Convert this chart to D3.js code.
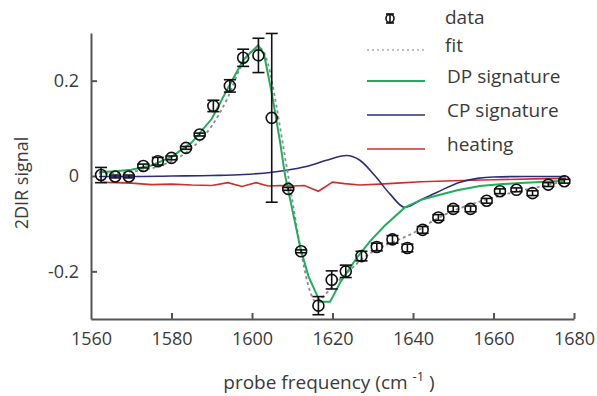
<!DOCTYPE html>
<html>
<head>
<meta charset="utf-8">
<style>
  body { margin: 0; background: #fff; }
  svg text { font-family: 'Open Sans', sans-serif; fill: #3a3a3a; }
</style>
</head>
<body>
<svg id="svg"></svg>
<script src="https://d3js.org/d3.v7.min.js"></script>
<script>

// measured points (probe frequency, signal, error)
const dataFreq = [1562.5, 1566, 1569.4, 1573, 1576.6, 1580, 1583.6, 1587, 1590.4, 1594.5, 1597.8, 1601.6,
  1604.9, 1609, 1612.2, 1616.5, 1619.8, 1623.3, 1627.2, 1631, 1634.9, 1638.6, 1642.4, 1646.3, 1650,
  1654.3, 1658.3, 1661.6, 1665.7, 1669.7, 1673.6, 1677.6];
const dataSignal = [0.002, -0.001, -0.001, 0.021, 0.031, 0.038, 0.059, 0.087, 0.147, 0.189, 0.248, 0.253,
  0.122, -0.027, -0.158, -0.272, -0.218, -0.2, -0.168, -0.149, -0.133, -0.151, -0.113, -0.087, -0.069,
  -0.069, -0.052, -0.032, -0.029, -0.036, -0.018, -0.011];
const dataErr = [0.016, 0.003, 0.003, 0.004, 0.008, 0.004, 0.003, 0.003, 0.012, 0.013, 0.018, 0.036,
  0.177, 0.003, 0.003, 0.019, 0.019, 0.013, 0.01, 0.008, 0.008, 0.008, 0.007, 0.006, 0.006,
  0.006, 0.005, 0.005, 0.004, 0.005, 0.004, 0.004];

// fit curve
const fitFreq = [1562, 1566, 1570, 1574, 1578, 1582, 1586, 1590, 1594, 1597, 1600, 1602, 1604, 1606, 1608,
  1610, 1612, 1614, 1616, 1618, 1620, 1624, 1628, 1632, 1636, 1640, 1645, 1650, 1655, 1660, 1665, 1670, 1675, 1678];
const fitSignal = [0.005, 0.006, 0.009, 0.014, 0.024, 0.04, 0.066, 0.105, 0.165, 0.225, 0.262, 0.268, 0.235, 0.15, 0.05,
  -0.05, -0.15, -0.23, -0.265, -0.25, -0.232, -0.2, -0.17, -0.15, -0.135, -0.12, -0.094, -0.073, -0.058, -0.045, -0.034, -0.025, -0.016, -0.011];

// DP signature
const dpFreq = [1562, 1566, 1570, 1575, 1580, 1585, 1590, 1595, 1598, 1601.5, 1603, 1605, 1607, 1608.2, 1610,
  1612, 1614, 1616.9, 1619.4, 1622, 1626, 1629.3, 1633, 1638, 1642, 1646, 1651, 1656.6, 1662.3, 1668, 1673, 1677.6];
const dpSignal = [0.008, 0.01, 0.013, 0.022, 0.04, 0.07, 0.12, 0.2, 0.245, 0.274, 0.255, 0.17, 0.07, 0.002, -0.07,
  -0.15, -0.21, -0.264, -0.264, -0.222, -0.172, -0.137, -0.104, -0.066, -0.05, -0.041, -0.03, -0.021, -0.017, -0.014, -0.012, -0.01];

// CP signature
const cpFreq = [1562, 1570, 1580, 1590, 1598, 1605, 1610, 1614, 1618.5, 1623.5, 1626.8, 1630.5, 1634.3, 1638,
  1642, 1646, 1651.7, 1656, 1660, 1668, 1678];
const cpSignal = [-0.001, -0.001, 0, 0.001, 0.003, 0.008, 0.014, 0.021, 0.033, 0.043, 0.033, 0.001, -0.038, -0.066,
  -0.05, -0.034, -0.013, -0.005, -0.002, -0.001, -0.001];

// heating
const heatFreq = [1562.5, 1566, 1570, 1575, 1580, 1585, 1590, 1594, 1597.5, 1601, 1604, 1607, 1610, 1613, 1616.5,
  1620, 1623, 1626.8, 1631.8, 1636, 1642, 1650, 1660, 1670, 1678];
const heatSignal = [-0.013, -0.014, -0.015, -0.018, -0.017, -0.019, -0.02, -0.014, -0.022, -0.014, -0.021, -0.02, -0.021,
  -0.02, -0.032, -0.013, -0.016, -0.019, -0.017, -0.015, -0.012, -0.01, -0.008, -0.006, -0.005];

const xTicks = [1560, 1580, 1600, 1620, 1640, 1660, 1680];
const yTicks = [-0.2, 0, 0.2];
const yTickLabels = ["-0.2", "0", "0.2"];

const W = 597, H = 396;
const svg = d3.select("#svg").attr("width", W).attr("height", H);

const x = d3.scaleLinear().domain([1560, 1680]).range([91, 574]);
const y = d3.scaleLinear().domain([-0.3, 0.3]).range([319, 33]);

const axisColor = "#555";

// axes
const xAxis = svg.append("g")
    .attr("transform", `translate(0, ${y(-0.3)})`)
    .call(d3.axisBottom(x).tickValues(xTicks).tickFormat(d3.format("d")).tickSizeInner(-6).tickSizeOuter(0).tickPadding(13));
const yAxis = svg.append("g")
    .attr("transform", `translate(${x(1560)}, 0)`)
    .call(d3.axisLeft(y).tickValues(yTicks).tickFormat((d, i) => yTickLabels[i])
      .tickSizeInner(-6).tickSizeOuter(0).tickPadding(12));

[xAxis, yAxis].forEach(g => {
  g.select(".domain").attr("stroke", axisColor).attr("stroke-width", 2);
  g.selectAll(".tick line").attr("stroke", axisColor).attr("stroke-width", 2);
  g.selectAll(".tick text").attr("font-size", 18).attr("fill", "#3a3a3a")
    .attr("font-family", "'Open Sans', sans-serif");
});
xAxis.selectAll(".tick").filter(d => d === 1560).select("line").remove();

// axis titles
svg.append("text")
    .attr("transform", `translate(28, 183) rotate(-90)`)
    .attr("text-anchor", "middle")
    .attr("font-size", 18)
    .text("2DIR signal");

const xt = svg.append("text")
    .attr("x", 329).attr("y", 389)
    .attr("text-anchor", "middle")
    .attr("font-size", 19);
xt.append("tspan").text("probe frequency (cm ");
xt.append("tspan").attr("font-size", 13).attr("dy", -8).text("-1");
xt.append("tspan").attr("dy", 8).text(" )");

const line = d3.line().x(d => x(d[0])).y(d => y(d[1]));
const smooth = d3.line().curve(d3.curveMonotoneX).x(d => x(d[0])).y(d => y(d[1]));
const zip = (a, b) => a.map((v, i) => [v, b[i]]);

const colors = { fit: "#8c8c8c", dp: "#1fae5e", cp: "#2b2d7c", heat: "#cf2e2e" };

svg.append("path").datum(zip(heatFreq, heatSignal)).attr("d", line)
    .attr("fill", "none").attr("stroke", colors.heat).attr("stroke-width", 1.6);
svg.append("path").datum(zip(cpFreq, cpSignal)).attr("d", smooth)
    .attr("fill", "none").attr("stroke", colors.cp).attr("stroke-width", 1.6);
svg.append("path").datum(zip(fitFreq, fitSignal)).attr("d", smooth)
    .attr("fill", "none").attr("stroke", colors.fit).attr("stroke-width", 1.8).attr("stroke-dasharray", "3,3");
svg.append("path").datum(zip(dpFreq, dpSignal)).attr("d", line)
    .attr("fill", "none").attr("stroke", colors.dp).attr("stroke-width", 2);

// data with error bars
const pts = dataFreq.map((f, i) => ({ f: f, v: dataSignal[i], e: dataErr[i] }));
const capW = 6;
const pg = svg.append("g").attr("stroke", "#111").attr("stroke-width", 1.6).attr("fill", "none");
pts.forEach(d => {
  const cx = x(d.f), y0 = y(d.v - d.e), y1 = y(d.v + d.e);
  pg.append("line").attr("x1", cx).attr("x2", cx).attr("y1", y0).attr("y2", y1);
  pg.append("line").attr("x1", cx - capW).attr("x2", cx + capW).attr("y1", y0).attr("y2", y0);
  pg.append("line").attr("x1", cx - capW).attr("x2", cx + capW).attr("y1", y1).attr("y2", y1);
  pg.append("circle").attr("cx", cx).attr("cy", y(d.v)).attr("r", 5.5);
});

// legend
const legend = svg.append("g");
const items = [
  { label: "data", type: "marker", y: 18, tx: 445 },
  { label: "fit", type: "fit", y: 46, tx: 445 },
  { label: "DP signature", type: "dp", y: 77, tx: 447 },
  { label: "CP signature", type: "cp", y: 111, tx: 447 },
  { label: "heating", type: "heat", y: 145, tx: 447 }
];
items.forEach(it => {
  if (it.type === "marker") {
    const cx = 390;
    legend.append("line").attr("x1", cx - 4).attr("x2", cx + 4).attr("y1", it.y - 4).attr("y2", it.y - 4).attr("stroke", "#111").attr("stroke-width", 1.6);
    legend.append("line").attr("x1", cx - 4).attr("x2", cx + 4).attr("y1", it.y + 5).attr("y2", it.y + 5).attr("stroke", "#111").attr("stroke-width", 1.6);
    legend.append("line").attr("x1", cx).attr("x2", cx).attr("y1", it.y - 4).attr("y2", it.y + 5).attr("stroke", "#111").attr("stroke-width", 1.6);
    legend.append("circle").attr("cx", cx).attr("cy", it.y + 0.5).attr("r", 4).attr("fill", "none").attr("stroke", "#111").attr("stroke-width", 1.6);
  } else {
    const l = legend.append("line").attr("x1", 367).attr("x2", 425).attr("y1", it.y + 4).attr("y2", it.y + 4)
        .attr("stroke", colors[it.type]).attr("stroke-width", it.type === "dp" ? 2 : 1.6);
    if (it.type === "fit") l.attr("stroke-dasharray", "2,3").attr("stroke", "#aaa");
  }
  legend.append("text").attr("x", it.tx).attr("y", it.y).attr("dy", "0.32em")
      .attr("font-size", 19).text(it.label);
});

</script>
</body>
</html>
